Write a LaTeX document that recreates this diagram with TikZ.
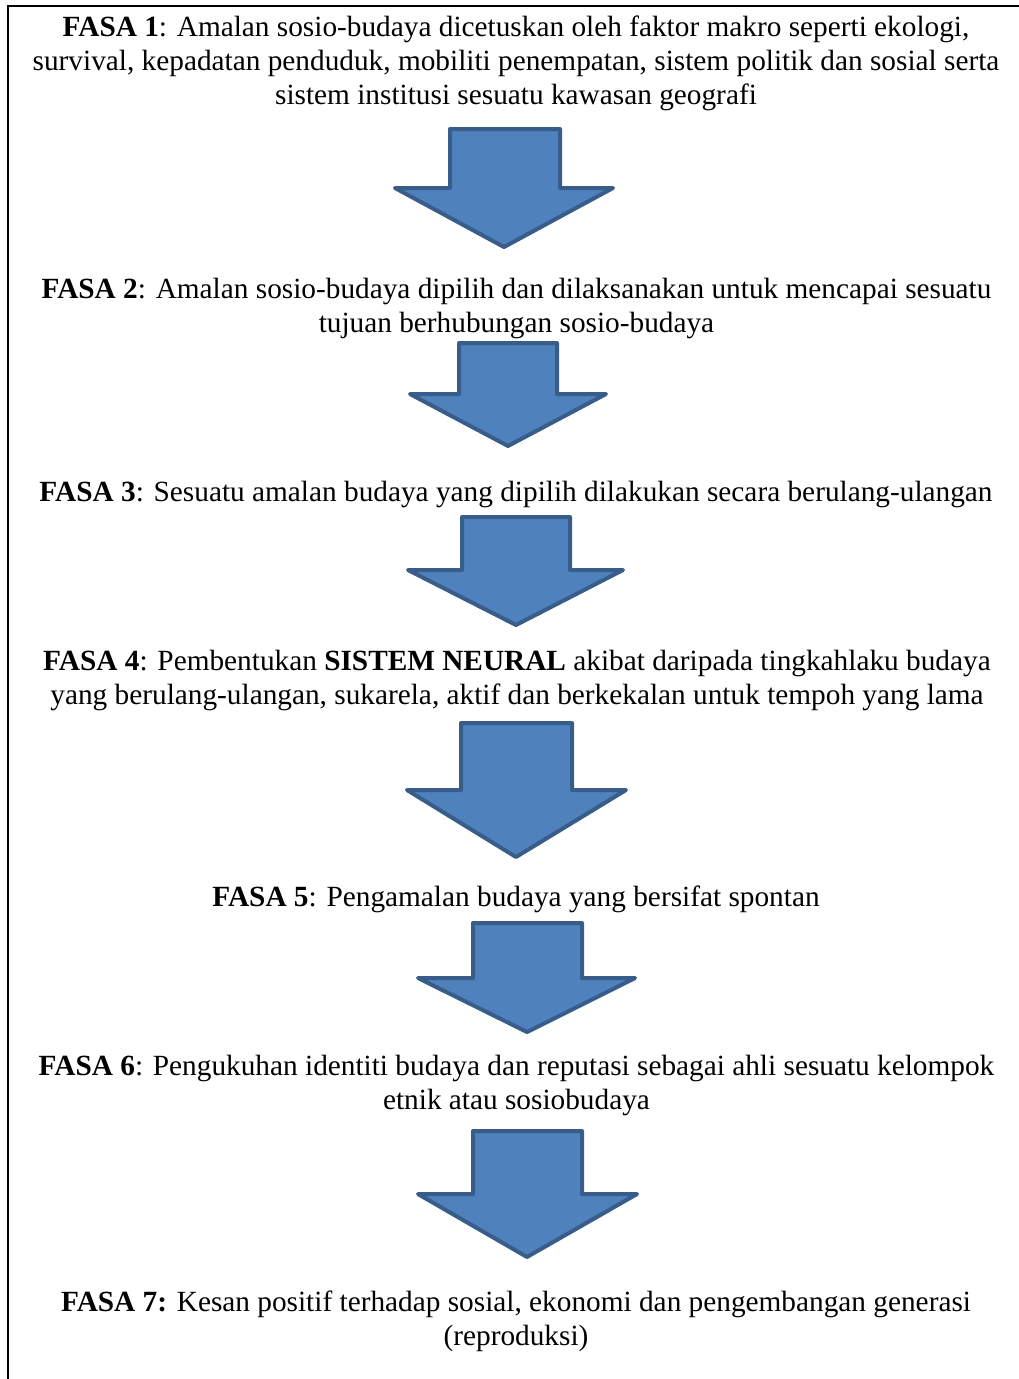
\documentclass[tikz,border=0pt]{standalone}
\usepackage{fontspec}
\setmainfont{Liberation Serif}
\begin{document}
\begin{tikzpicture}[x=1pt,y=-1pt,
  phase/.style={anchor=north,inner sep=0pt,align=center,
    font=\fontsize{29.3}{34}\selectfont},
  blockarrow/.style={fill=arrowfill,draw=arrowline,line width=4pt,line join=round},
  frameline/.style={draw=black,line width=1.6pt}]
\definecolor{arrowfill}{HTML}{4F81BD}
\definecolor{arrowline}{HTML}{385D8A}
\useasboundingbox (0,0) rectangle (1018,1379);

% frame: top and left edges
\draw[frameline] (1020,6) -- (8,6) -- (8,1381);

% block arrow: shaft left/right, top, wing level, wing left/right, tip
\newcommand{\downarrowshape}[9]{%
  \draw[blockarrow] (#1,#3) -- (#2,#3) -- (#2,#4) -- (#6,#4) -- (#7,#8)
    -- (#5,#4) -- (#1,#4) -- cycle;}

% phase texts (first baseline minus strut height)
\node[phase] (f1) at (516,12.5) {\strut\textbf{FASA 1}: Amalan sosio-budaya dicetuskan oleh faktor makro seperti ekologi,\\
  \strut survival, kepadatan penduduk, mobiliti penempatan, sistem politik dan sosial serta\\
  \strut sistem institusi sesuatu kawasan geografi};
\node[phase] (f2) at (516.5,274.5) {\strut\textbf{FASA 2}: Amalan sosio-budaya dipilih dan dilaksanakan untuk mencapai sesuatu\\
  \strut tujuan berhubungan sosio-budaya};
\node[phase] (f3) at (516,477.5) {\strut\textbf{FASA 3}: Sesuatu amalan budaya yang dipilih dilakukan secara berulang-ulangan};
\node[phase] (f4) at (517,646.5) {\strut\textbf{FASA 4}: Pembentukan \textbf{SISTEM NEURAL} akibat daripada tingkahlaku budaya\\
  \strut yang berulang-ulangan, sukarela, aktif dan berkekalan untuk tempoh yang lama};
\node[phase] (f5) at (516,882.5) {\strut\textbf{FASA 5}: Pengamalan budaya yang bersifat spontan};
\node[phase] (f6) at (516.5,1051.5) {\strut\textbf{FASA 6}: Pengukuhan identiti budaya dan reputasi sebagai ahli sesuatu kelompok\\
  \strut etnik atau sosiobudaya};
\node[phase] (f7) at (516,1287.5) {\strut\textbf{FASA 7:} Kesan positif terhadap sosial, ekonomi dan pengembangan generasi\\
  \strut (reproduksi)};

% arrows between phases
\downarrowshape{450}{560}{129}{188}{395}{613}{504}{247}{}
\downarrowshape{459}{557}{343}{394}{410}{606}{508}{446}{}
\downarrowshape{462}{570}{517}{570}{408}{623}{516}{625}{}
\downarrowshape{461}{572}{723}{790}{407}{626}{516}{857}{}
\downarrowshape{473}{582}{923}{978}{418}{635}{527}{1032}{}
\downarrowshape{473}{582}{1131}{1194}{418}{637}{527}{1257}{}
\end{tikzpicture}
\end{document}
